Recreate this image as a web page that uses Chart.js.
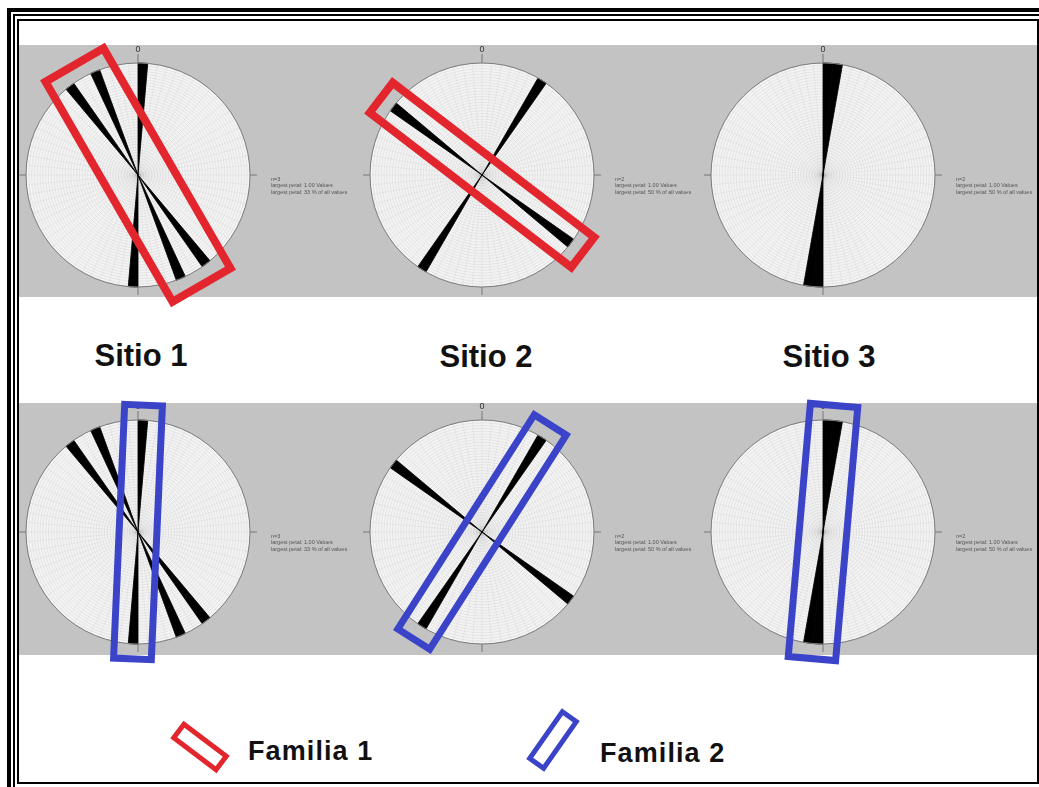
<!DOCTYPE html>
<html>
<head>
<meta charset="utf-8">
<title>Diagramas de rosa por sitio</title>
<script src="https://cdn.jsdelivr.net/npm/chart.js"></script>
<style>
  html, body { margin: 0; padding: 0; width: 1039px; height: 787px; overflow: hidden; background: #fff; }
  body { position: relative; font-family: "Liberation Sans", Arial, sans-serif; }
  .frame { position: absolute; box-sizing: border-box; border: solid #000; }
  #frameOuter { left: 7px; top: 8px; width: 1060px; height: 810px; border-width: 4px; }
  #frameMid { left: 13px; top: 14px; width: 1050px; height: 800px; border-width: 2px; }
  #frameInner { left: 17px; top: 19px; width: 1022px; height: 765px; border-width: 2px; }
  .strip { position: absolute; left: 19px; width: 1018px; height: 252px; background: #c3c3c3; }
  canvas { position: absolute; }
  .sitio { position: absolute; width: 200px; text-align: center; font-weight: bold; font-size: 31px; line-height: 1; color: #111; }
  .fam { position: absolute; font-weight: bold; font-size: 27px; line-height: 1; letter-spacing: 1.1px; color: #111; }
  .famBox { position: absolute; box-sizing: border-box; border: 5px solid; }
</style>
</head>
<body>
<div class="frame" id="frameOuter"></div>
<div class="frame" id="frameMid"></div>
<div class="frame" id="frameInner"></div>
<div class="strip" style="top:45px"></div>
<div class="strip" style="top:403px"></div>

<div class="sitio" style="left:41px; top:340px">Sitio 1</div>
<div class="sitio" style="left:386px; top:341px">Sitio 2</div>
<div class="sitio" style="left:729px; top:341px">Sitio 3</div>

<div class="famBox" style="left:171px; top:736px; width:58px; height:22px; border-color:#e3262e; transform:rotate(37deg)"></div>
<div class="fam" style="left:248px; top:738px">Familia 1</div>
<div class="famBox" style="left:522px; top:729px; width:62px; height:22px; border-color:#3b44c8; transform:rotate(-55deg)"></div>
<div class="fam" style="left:600px; top:740px">Familia 2</div>

<script>
// 5 degree bins, azimuth clockwise from north
const BIN = 5;
const binLabels = [];
for (let a = 0; a < 360; a += BIN) binLabels.push(a);

// petals: start azimuth of each bin that holds data (bidirectional roses)
const sitio1Petals = [0, 140, 155, 180, 320, 335];
const sitio1Counts = [1, 1, 1, 1, 1, 1];
const sitio2Petals = [30, 125, 210, 305];
const sitio2Counts = [1, 1, 1, 1];
const sitio3Petals = [0, 5, 180, 185];
const sitio3Counts = [1, 1, 1, 1];

// bins grouped into each joint family (northern half only)
const familia1Petals = [[320, 335], [125], []];
const familia2Petals = [[0], [30], [0, 5]];

const sitios = [
  { petals: sitio1Petals, counts: sitio1Counts },
  { petals: sitio2Petals, counts: sitio2Counts },
  { petals: sitio3Petals, counts: sitio3Counts }
];

// layout
const panelX = [138, 482, 823];
const rowY = [175, 532];
const R = 112;
const CW = 345, CH = 300, OX = 125, OY = 150;
const rows = [
  { families: familia1Petals, color: '#e3262e', width: 8 },
  { families: familia2Petals, color: '#3b44c8', width: 7 }
];

function binData(petals, counts) {
  const d = binLabels.map(function () { return 0; });
  petals.forEach(function (p, i) { d[p / BIN] = counts[i]; });
  return d;
}

function roseDecor(stats, famPetals, famColor, famWidth) {
  return {
    id: 'roseDecor',
    beforeDraw: function (chart) {
      const s = chart.scales.r, ctx = chart.ctx;
      ctx.save();
      ctx.beginPath();
      ctx.arc(s.xCenter, s.yCenter, s.drawingArea, 0, 2 * Math.PI);
      ctx.fillStyle = '#f3f3f3';
      ctx.fill();
      ctx.restore();
    },
    afterDraw: function (chart) {
      const s = chart.scales.r, ctx = chart.ctx;
      const cx = s.xCenter, cy = s.yCenter, r = s.drawingArea;
      ctx.save();
      // outline and compass ticks
      ctx.beginPath();
      ctx.arc(cx, cy, r, 0, 2 * Math.PI);
      ctx.strokeStyle = '#7d7d7d';
      ctx.lineWidth = 1;
      ctx.stroke();
      ctx.beginPath();
      ctx.moveTo(cx, cy - r - 9); ctx.lineTo(cx, cy - r);
      ctx.moveTo(cx, cy + r); ctx.lineTo(cx, cy + r + 8);
      ctx.moveTo(cx - r - 7, cy); ctx.lineTo(cx - r, cy);
      ctx.moveTo(cx + r, cy); ctx.lineTo(cx + r + 7, cy);
      ctx.strokeStyle = '#777';
      ctx.stroke();
      ctx.fillStyle = '#333';
      ctx.font = '9px "Liberation Sans", Arial';
      ctx.textAlign = 'center';
      ctx.textBaseline = 'middle';
      ctx.fillText('0', cx, cy - r - 13);

      // petal statistics
      ctx.fillStyle = '#555';
      ctx.font = '5.5px "Liberation Sans", Arial';
      ctx.textAlign = 'left';
      const tx = cx + r + 21;
      ctx.fillText('n=' + stats.n, tx, cy + 4);
      ctx.fillText('largest petal: ' + stats.max.toFixed(2) + ' Values', tx, cy + 10.5);
      ctx.fillText('largest petal: ' + stats.pct + ' % of all values', tx, cy + 17);

      // family highlight box
      if (famPetals.length) {
        const lo = Math.min.apply(null, famPetals);
        const hi = Math.max.apply(null, famPetals) + BIN;
        const axis = (lo + hi) / 2 * Math.PI / 180;
        const half = (hi - lo) / 2 * Math.PI / 180;
        const L = r + 15, W = r * Math.sin(half) + 14;
        const ux = Math.sin(axis), uy = -Math.cos(axis);
        const vx = Math.cos(axis), vy = Math.sin(axis);
        ctx.beginPath();
        [[1, 1], [1, -1], [-1, -1], [-1, 1]].forEach(function (c, i) {
          const x = cx + c[0] * L * ux + c[1] * W * vx;
          const y = cy + c[0] * L * uy + c[1] * W * vy;
          if (i) ctx.lineTo(x, y); else ctx.moveTo(x, y);
        });
        ctx.closePath();
        ctx.lineWidth = famWidth;
        ctx.lineJoin = 'miter';
        ctx.strokeStyle = famColor;
        ctx.stroke();
      }
      ctx.restore();
    }
  };
}

rows.forEach(function (row, ri) {
  sitios.forEach(function (site, si) {
    const canvas = document.createElement('canvas');
    canvas.width = CW;
    canvas.height = CH;
    canvas.style.left = (panelX[si] - OX) + 'px';
    canvas.style.top = (rowY[ri] - OY) + 'px';
    document.body.appendChild(canvas);

    const total = site.counts.reduce(function (a, b) { return a + b; }, 0);
    const n = total / 2;
    const max = Math.max.apply(null, site.counts);
    const stats = { n: n, max: max, pct: Math.round(max / n * 100) };

    new Chart(canvas, {
      type: 'polarArea',
      data: {
        labels: binLabels,
        datasets: [{
          data: binData(site.petals, site.counts),
          backgroundColor: '#000',
          borderColor: '#000',
          borderWidth: function (c) { return c.raw > 0 ? 0.8 : 0; }
        }]
      },
      options: {
        responsive: false,
        animation: false,
        events: [],
        layout: { padding: { left: OX - R, right: CW - OX - R, top: OY - R, bottom: CH - OY - R } },
        plugins: { legend: { display: false }, tooltip: { enabled: false } },
        scales: {
          r: {
            min: 0,
            max: 1,
            startAngle: 0,
            ticks: { display: false, stepSize: 0.025 },
            grid: { circular: true, color: 'rgba(0,0,0,0.12)', lineWidth: 0.5 },
            angleLines: { display: true, color: 'rgba(0,0,0,0.09)', lineWidth: 0.5 },
            pointLabels: { display: false }
          }
        }
      },
      plugins: [roseDecor(stats, row.families[si], row.color, row.width)]
    });
  });
});
</script>
</body>
</html>
